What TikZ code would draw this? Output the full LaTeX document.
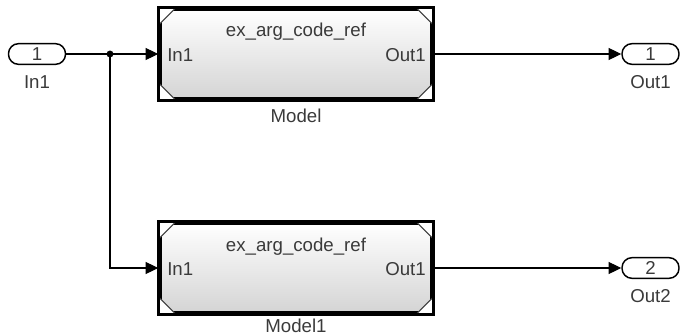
\documentclass[tikz,border=0pt]{standalone}
\usepackage{fontspec}
\setmainfont{Liberation Sans}
\usetikzlibrary{arrows.meta,shadows,calc}
\definecolor{txt}{HTML}{3A3A3A}
\definecolor{blkbot}{HTML}{D4D4D4}
\begin{document}
\begin{tikzpicture}[x=0.75pt,y=-0.75pt,
  font=\fontsize{14}{16}\selectfont,
  lbl/.style={text=txt, inner sep=0pt},
  port/.style={draw, line width=1.1pt, rounded corners=7.5pt, minimum width=42.75pt, minimum height=15.5pt, inner sep=0pt, fill=white, text=txt},
  mblock/.style={draw, line width=2.6pt, minimum width=204pt, minimum height=67.5pt, inner sep=0pt, top color=white, bottom color=blkbot, drop shadow={opacity=0.25, shadow xshift=2pt, shadow yshift=-2pt}},
  wire/.style={line width=0.8pt},
  arr/.style={wire, -{Triangle[length=9.5pt,width=9pt]}},
  cornerfill/.style={fill=white},
  cornerline/.style={draw=txt, line width=0.8pt}
]
\useasboundingbox (0,0) rectangle (680,335);

% blocks
\node[mblock] (m0) at (296,54) {};
\node[mblock] (m1) at (296,268) {};

\foreach \b in {m0,m1}{
  \fill[cornerfill] (\b.north west) -- ++(18,0) -- ++(-18,18) -- cycle;
  \fill[cornerfill] (\b.north east) -- ++(-18,0) -- ++(18,18) -- cycle;
  \fill[cornerfill] (\b.south west) -- ++(18,0) -- ++(-18,-18) -- cycle;
  \fill[cornerfill] (\b.south east) -- ++(-18,0) -- ++(18,-18) -- cycle;
  \draw[cornerline] ($(\b.north west)+(18,0)$) -- ($(\b.north west)+(0,18)$);
  \draw[cornerline] ($(\b.north east)+(-18,0)$) -- ($(\b.north east)+(0,18)$);
  \draw[cornerline] ($(\b.south west)+(18,0)$) -- ($(\b.south west)+(0,-18)$);
  \draw[cornerline] ($(\b.south east)+(-18,0)$) -- ($(\b.south east)+(0,-18)$);
  \draw[line width=2.6pt] (\b.north west) rectangle (\b.south east);
}

% block texts
\node[lbl, anchor=base] (t0) at (296,37) {ex\_arg\_code\_ref};
\node[lbl, anchor=base west] (i0) at (167,61.5) {In1};
\node[lbl, anchor=base east] (o0) at (426,61.5) {Out1};
\node[lbl, anchor=base] (n0) at (296,122) {Model};

\node[lbl, anchor=base] (t1) at (296,251) {ex\_arg\_code\_ref};
\node[lbl, anchor=base west] (i1) at (167,275.5) {In1};
\node[lbl, anchor=base east] (o1) at (426,275.5) {Out1};
\node[lbl, anchor=base] (n1) at (296,332) {Model1};

% ports
\node[port] (in1) at (37,54) {1};
\node[lbl, anchor=base] (in1l) at (37,88) {In1};
\node[port] (out1) at (650.5,54) {1};
\node[lbl, anchor=base] (out1l) at (650.5,88) {Out1};
\node[port] (out2) at (650.5,268) {2};
\node[lbl, anchor=base] (out2l) at (650.5,302) {Out2};

% junction
\coordinate (j) at (110,54);
\fill (j) circle[radius=2.6pt];

% wires
\draw[wire] (in1.east) -- (j);
\draw[arr] (j) -- (m0.west);
\draw[arr] (j) |- (m1.west);
\draw[arr] (m0.east) -- (out1.west);
\draw[arr] (m1.east) -- (out2.west);
\end{tikzpicture}
\end{document}
